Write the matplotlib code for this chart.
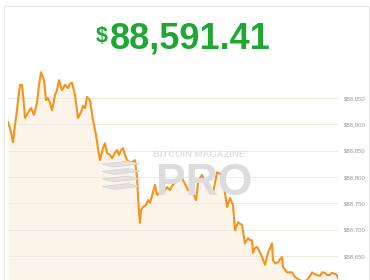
import matplotlib
matplotlib.use("Agg")
import matplotlib.pyplot as plt
from matplotlib.patches import Rectangle, Polygon

# ---- data (minutes from start, BTC price in USD) ----
minutes = [0, 2, 5, 7, 9, 11, 12, 14, 16, 17, 20, 23, 26, 29, 31, 33, 36, 38, 40, 42, 44, 47, 49, 51,
           54, 57, 60, 62, 64, 67, 70, 73, 75, 77, 79, 82, 85, 88, 90, 92, 95, 97, 99, 102, 104, 107,
           109, 111, 113, 115, 117, 119, 122, 124, 127, 129, 131, 132, 133, 135, 138, 140, 142, 144,
           147, 149, 152, 154, 157, 159, 162, 164, 167, 170, 172, 175, 177, 180, 182, 185, 188, 190,
           192, 194, 197, 199, 202, 205, 207, 209, 212, 214, 216, 217, 219, 222, 225, 227, 230, 232,
           234, 237, 240, 242, 244, 245, 247, 249, 252, 254, 257, 260, 264, 265, 267, 270, 272, 274,
           275, 279, 282, 284, 287, 290, 292, 295, 299, 302, 304, 306, 309, 312, 314, 317, 319, 322,
           324, 327, 329, 330]
price = [88904, 88893, 88866, 88899, 88927, 88961, 88975, 88975, 88937, 88912, 88922, 88931, 88918,
         88941, 88975, 88999, 88984, 88946, 88950, 88941, 88927, 88956, 88965, 88984, 88965, 88975,
         88969, 88977, 88979, 88956, 88912, 88923, 88935, 88931, 88952, 88946, 88908, 88880, 88855,
         88832, 88855, 88864, 88846, 88842, 88836, 88846, 88851, 88842, 88851, 88855, 88842, 88832,
         88828, 88828, 88832, 88800, 88732, 88713, 88737, 88743, 88747, 88756, 88751, 88764, 88785,
         88766, 88770, 88770, 88775, 88781, 88775, 88783, 88789, 88798, 88808, 88794, 88787, 88775,
         88775, 88771, 88756, 88789, 88798, 88804, 88790, 88781, 88775, 88771, 88789, 88809, 88806,
         88800, 88783, 88770, 88743, 88760, 88747, 88699, 88714, 88711, 88709, 88674, 88684, 88680,
         88680, 88656, 88665, 88667, 88657, 88648, 88633, 88656, 88674, 88642, 88636, 88638, 88644,
         88648, 88629, 88619, 88619, 88619, 88610, 88606, 88604, 88602, 88604, 88612, 88619, 88616,
         88614, 88612, 88619, 88618, 88614, 88614, 88618, 88616, 88614, 88608]
yticks = [88650, 88700, 88750, 88800, 88850, 88900, 88950]
ytick_labels = ["$88,650", "$88,700", "$88,750", "$88,800", "$88,850", "$88,900", "$88,950"]
current_price = "88,591.41"

W, H = 370, 280
fig = plt.figure(figsize=(W / 100, H / 100), dpi=100)
fig.patch.set_facecolor("white")

def fx(px):
    return px / W

def fy(py):
    return 1 - py / H

# card border
fig.patches.append(Rectangle((fx(4), fy(300)), fx(365), 300 / H + 0.0, transform=fig.transFigure,
                             fill=False, edgecolor="#e6e6e6", linewidth=0.8, zorder=0))
fig.patches[-1].set_height(fy(6) - fy(300))

# title
fig.text(fx(110), fy(48), current_price, fontsize=26, fontweight="bold", color="#1fa733",
         family="Liberation Sans", ha="left", va="baseline")
fig.text(fx(108), fy(42), "$", fontsize=15.5, fontweight="bold", color="#1fa733",
         family="Liberation Sans", ha="right", va="baseline")

# axes
ax_left, ax_right = 8, 338
ax_top, ax_bottom = 66, 280
ax = fig.add_axes([fx(ax_left), fy(ax_bottom), (ax_right - ax_left) / W, (ax_bottom - ax_top) / H])
ax.set_facecolor("none")
ymin, ymax = 88604.4, 89010.8
ax.set_ylim(ymin, ymax)
ax.set_xlim(minutes[0], minutes[-1])

# watermark
wm = "#d9d9d9"
fig.text(fx(153), fy(157), "BITCOIN MAGAZINE", fontsize=6.8, fontweight="bold", color="#e0e0e0",
         family="Liberation Sans", ha="left", va="baseline", zorder=1)
fig.text(fx(156), fy(195), "PRO", fontsize=32, fontweight="bold", color="#dcdcdc",
         family="Liberation Sans", ha="left", va="baseline", zorder=1)
for i in range(4):
    top = 161 + i * 7.5
    pts = [(102, top + 3), (128, top), (140, top + 3), (114, top + 6)]
    fig.patches.append(Polygon([(fx(a), fy(b)) for a, b in pts], closed=True,
                               transform=fig.transFigure, facecolor="#e2e2e2",
                               edgecolor="#d2d2d2", linewidth=0.5, zorder=1))

ax.fill_between(minutes, price, ymin, color="#fdf3e6", alpha=0.85, zorder=2, linewidth=0)
ax.plot(minutes, price, color="#f7931a", linewidth=1.5, zorder=4, solid_joinstyle="round")

ax.set_yticks(yticks)
ax.set_yticklabels(ytick_labels)
ax.yaxis.tick_right()
ax.tick_params(axis="y", length=0, pad=4, labelsize=4.3, labelcolor="#9a9a9a")
for lab in ax.get_yticklabels():
    lab.set_family("Liberation Sans")
ax.set_xticks([])
ax.grid(axis="y", color="#efe9e2", linewidth=0.7, zorder=3)
ax.set_axisbelow(False)
for s in ax.spines.values():
    s.set_visible(False)

fig.savefig("out.png", dpi=100)
